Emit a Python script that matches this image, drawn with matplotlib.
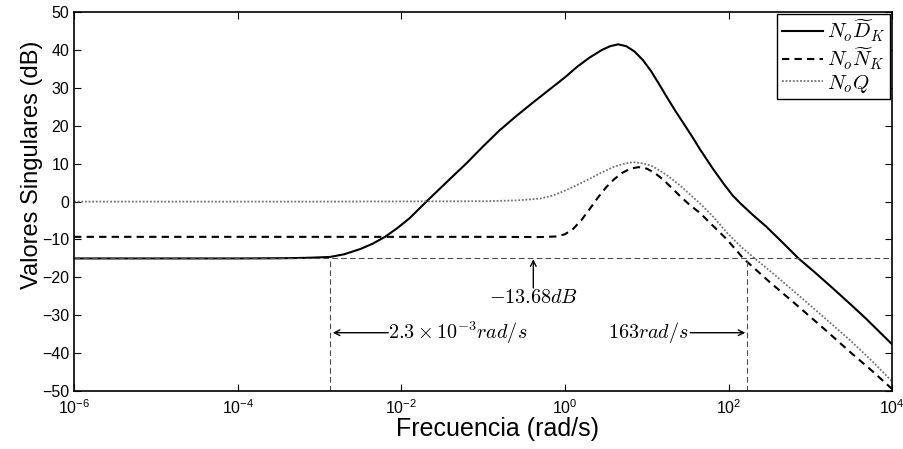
import numpy as np
import matplotlib.pyplot as plt

plt.rcParams['font.family'] = ['Liberation Sans', 'DejaVu Sans']
plt.rcParams['mathtext.fontset'] = 'cm'

# ----------- datos (log10 de la frecuencia, dB) -----------
logw_D = [-6.0, -4.0, -3.5, -3.3, -3.1, -2.87, -2.7, -2.5, -2.35, -2.2, -2.05,
          -1.9, -1.68, -1.4, -1.2, -1.0, -0.8, -0.6, -0.4, -0.2, 0.0, 0.15,
          0.3, 0.45, 0.55, 0.65, 0.75, 0.85, 0.95, 1.05, 1.15, 1.25, 1.35,
          1.45, 1.55, 1.65, 1.81, 1.95, 2.05, 2.15, 2.3, 2.46, 2.65, 2.85,
          3.05, 3.27, 3.5, 3.68, 4.0]
db_D = [-15.0, -15.0, -14.95, -14.9, -14.8, -14.6, -13.9, -12.5, -11.1, -9.3, -7.0,
        -4.4, 0.3, 6.1, 10.2, 14.6, 18.8, 22.5, 26.0, 29.4, 32.8, 35.6,
        38.0, 40.0, 41.0, 41.5, 41.0, 39.6, 37.4, 34.5, 31.0, 27.4, 23.9,
        20.6, 17.3, 13.8, 8.6, 4.4, 1.6, -0.6, -3.6, -6.6, -10.6, -14.9,
        -18.6, -22.8, -27.3, -30.9, -37.7]

logw_N = [-6.0, -3.0, -1.0, -0.3, -0.1, 0.0, 0.1, 0.2, 0.3, 0.4, 0.5, 0.6,
          0.7, 0.8, 0.9, 1.0, 1.1, 1.2, 1.3, 1.4, 1.52, 1.65, 1.8, 1.98,
          2.18, 2.5, 2.87, 3.2, 3.48, 3.75, 4.0]
db_N = [-9.3, -9.3, -9.3, -9.35, -9.2, -8.6, -7.2, -4.9, -2.0, 1.0, 3.7, 5.9,
        7.6, 8.7, 9.1, 8.7, 7.5, 5.8, 3.7, 1.6, -0.8, -3.0, -6.2, -10.0,
        -15.0, -21.2, -28.0, -34.2, -39.6, -44.6, -49.5]

logw_Q = [-6.0, -3.0, -1.0, -0.6, -0.3, -0.15, 0.0, 0.15, 0.3, 0.45, 0.59,
          0.7, 0.83, 0.95, 1.05, 1.12, 1.25, 1.41, 1.53, 1.65, 1.8, 1.98,
          2.15, 2.32, 2.6, 2.87, 3.2, 3.48, 3.75, 4.0]
db_Q = [0.0, 0.0, 0.1, 0.3, 0.8, 1.6, 2.9, 4.4, 6.0, 7.7, 9.1,
        9.9, 10.4, 10.1, 9.5, 8.7, 6.9, 4.2, 1.8, -0.5, -3.7, -8.2,
        -11.9, -15.0, -20.0, -25.0, -31.2, -36.5, -42.0, -47.5]

nivel = -15.0      # linea horizontal de referencia
w_low = 1.35e-3    # cruce inferior
w_high = 170.0     # cruce superior

w_D = 10.0 ** np.array(logw_D)
w_N = 10.0 ** np.array(logw_N)
w_Q = 10.0 ** np.array(logw_Q)

fig = plt.figure(figsize=(9.04, 4.49), dpi=100)
ax = fig.add_axes([0.082, 0.129, 0.905, 0.844])

ax.semilogx(w_D, db_D, color='k', lw=1.5, label=r'$N_o\widetilde{D}_K$')
ax.semilogx(w_N, db_N, color='k', lw=1.5, dashes=(3.5, 2.5), label=r'$N_o\widetilde{N}_K$')
ax.semilogx(w_Q, db_Q, color='0.45', lw=1.3, dashes=(1, 1), label=r'$N_oQ$')

# lineas de referencia
ax.axhline(nivel, color='0.3', lw=0.8, dashes=(5, 3))
ax.plot([w_low, w_low], [-50, nivel], color='0.3', lw=0.8, dashes=(5, 3))
ax.plot([w_high, w_high], [-50, nivel], color='0.3', lw=0.8, dashes=(5, 3))

# anotaciones
arr = dict(arrowstyle='->', color='k', lw=1.0, shrinkA=0, shrinkB=0)
ax.annotate('', xy=(0.41, nivel - 0.2), xytext=(0.41, -22.8), arrowprops=arr)
ax.text(0.41, -25.3, r'$-13.68dB$', ha='center', va='center', fontsize=14.5)
ax.annotate('', xy=(1.45e-3, -34.6), xytext=(6.9e-3, -34.6), arrowprops=arr)
ax.text(6.9e-3, -34.6, r'$2.3\times10^{-3}rad/s$', ha='left', va='center', fontsize=14.5)
ax.annotate('', xy=(160, -34.6), xytext=(34, -34.6), arrowprops=arr)
ax.text(33, -34.6, r'$163rad/s$', ha='right', va='center', fontsize=14.5)

ax.set_xlim(1e-6, 1e4)
ax.set_ylim(-50, 50)
ax.set_xticks([1e-6, 1e-4, 1e-2, 1e0, 1e2, 1e4])
ax.xaxis.set_minor_locator(plt.NullLocator())
ax.set_yticks(np.arange(-50, 51, 10))
ax.tick_params(direction='in', top=True, right=True, labelsize=11.5, length=5, width=0.8)
ax.tick_params(axis='x', pad=5)
for s in ax.spines.values():
    s.set_linewidth(1.2)

ax.set_xlabel('Frecuencia (rad/s)', fontsize=18)
ax.set_ylabel('Valores Singulares (dB)', fontsize=17)
ax.xaxis.set_label_coords(0.518, -0.068)
ax.yaxis.set_label_coords(-0.038, 0.596)

leg = ax.legend(loc='upper right', bbox_to_anchor=(0.997, 0.995), borderaxespad=0,
                fontsize=15, fancybox=False, edgecolor='k', framealpha=1,
                handlelength=2.0, handletextpad=0.2, labelspacing=0.05,
                borderpad=0.2)
leg.get_frame().set_linewidth(1.0)

plt.savefig('out.png', dpi=100)
